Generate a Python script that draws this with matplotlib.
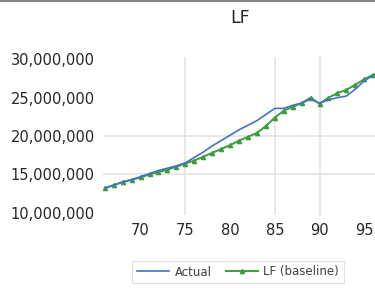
import matplotlib
matplotlib.use("Agg")
import matplotlib.pyplot as plt
from matplotlib.lines import Line2D

years = list(range(66, 97))
actual = [13.2, 13.6, 14.0, 14.3, 14.7, 15.1, 15.5, 15.8, 16.1, 16.5,
          17.2, 17.9, 18.7, 19.4, 20.1, 20.8, 21.4, 22.0, 22.8, 23.6,
          23.6, 24.0, 24.3, 24.8, 24.3, 24.7, 25.0, 25.2, 26.1, 27.2, 27.9]
baseline = [13.2, 13.6, 14.0, 14.3, 14.6, 15.0, 15.3, 15.6, 16.0, 16.4,
            16.8, 17.3, 17.8, 18.3, 18.8, 19.4, 19.9, 20.4, 21.3, 22.4,
            23.3, 23.8, 24.3, 25.0, 24.2, 25.0, 25.6, 26.0, 26.7, 27.4, 28.0]
xtick_years = [70, 75, 80, 85, 90, 95]
ytick_vals = [10, 15, 20, 25, 30]
vgrid_years = [75, 85, 90]
hgrid_vals = [15, 20]

fig = plt.figure(figsize=(3.75, 2.94), dpi=100)
ax = fig.add_axes([103/375, 1 - 215/294, 1 - 103/375, (215 - 57)/294])

for g in vgrid_years:
    ax.axvline(g, color="#e3e3e3", lw=1.2, zorder=0)
for g in hgrid_vals:
    ax.axhline(g * 1e6, color="#e3e3e3", lw=1.2, zorder=0)

ax.plot(years, [v * 1e6 for v in actual], color="#4472C4", lw=1.2, zorder=3, label="Actual")
ax.plot(years, [v * 1e6 for v in baseline], color="#3E9B3E", lw=1.4, marker="^",
        markersize=3, zorder=2, label="LF (baseline)")

ax.set_xlim(65.8, 96.2)
ax.set_ylim(9.7e6, 30.3e6)
ax.set_xticks(xtick_years)
ax.set_xticklabels([str(y) for y in xtick_years])
ax.set_yticks([v * 1e6 for v in ytick_vals])
ax.set_yticklabels([f"{v * 1000000:,.0f}" for v in ytick_vals])
ax.tick_params(length=0, labelsize=10.5, colors="#262626", pad=6)
for s in ax.spines.values():
    s.set_visible(False)

fig.text(240/375, 1 - 18/294, "LF", ha="center", va="center", fontsize=12.5, color="#262626")

handles = [Line2D([], [], color="#4472C4", lw=1.2),
           Line2D([], [], color="#3E9B3E", lw=1.4, marker="^", markersize=3)]
leg = fig.legend(handles, ["Actual", "LF (baseline)"], loc="center",
                 bbox_to_anchor=(238/375, 1 - 272/294), ncol=2, frameon=True,
                 fontsize=8.5, handlelength=2.7, columnspacing=1.2, handletextpad=0.5,
                 edgecolor="#d9d9d9", fancybox=False)
leg.get_frame().set_linewidth(0.8)
for t in leg.get_texts():
    t.set_color("#404040")

fig.add_artist(Line2D([0, 1], [1 - 1/294, 1 - 1/294], transform=fig.transFigure,
                      color="#888888", lw=1.5))

fig.savefig("out.png", dpi=100)
